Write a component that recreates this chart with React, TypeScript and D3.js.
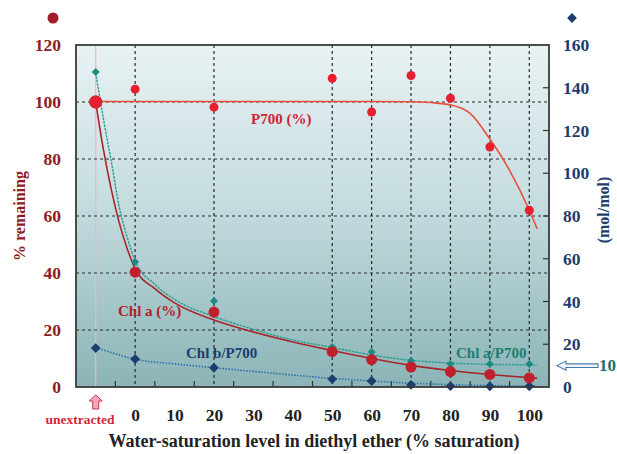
import React, { useRef, useEffect } from 'react';
import * as d3 from 'd3';

// measured samples (x = % water saturation, -10 = unextracted)
const sampleX = [-10, 0, 20, 50, 60, 70, 80, 90, 100];
const p700 = [100, 104.5, 98.2, 108.3, 96.5, 109.3, 101.3, 84.2, 62];
const chlA = [100, 40.3, 26.3, 12.4, 9.6, 7, 5.4, 4.4, 3.2];
const chlAP700 = [147.4, 58.5, 40.2, 18.7, 16.4, 12.2, 10.8, 10.8, 10.8];
const chlBP700 = [18.2, 13.1, 9, 3.7, 2.8, 1, 0.4, 0.3, 0.3];

// fitted curves
const p700FitX = [-10, 60, 70, 75, 80, 85, 90, 95, 100, 102];
const p700FitY = [100.2, 100.2, 100.1, 99.8, 99, 96, 87, 76, 62, 55.5];
const chlAFitX = [-10, -8, -6, -4, -2, 0, 5, 10, 20, 30, 40, 50, 60, 70, 80, 90, 100, 102];
const chlAFitY = [100, 83, 69, 57.5, 48.5, 41.5, 34.5, 29.5, 23.5, 19.3, 15.8, 12.8, 10, 7.6, 5.8, 4.4, 3.3, 3.1];
const chlAP700FitX = [-10, -8, -6, -4, -2, 0, 5, 10, 20, 30, 40, 50, 60, 70, 80, 90, 100, 102];
const chlAP700FitY = [147, 125, 105, 84, 70, 59, 48, 41, 33, 27, 22, 18.5, 15, 12.5, 11.2, 10.6, 10.3, 10.2];
const chlBFitX = [-10, -5, 0, 10, 20, 30, 40, 50, 60, 70, 80, 90, 100, 102];
const chlBFitY = [18.5, 15.5, 13, 10.8, 9, 7.3, 5.6, 4, 2.8, 1.8, 1.1, 0.7, 0.4, 0.4];

const xTickLabels = [0, 10, 20, 30, 40, 50, 60, 70, 80, 90, 100];
const xGrid = [0, 20, 50, 60, 70, 80, 90, 100];
const xMinorTicks = [-5, 5, 15, 25, 35, 45, 55, 65, 75, 85, 95];
const leftTicks = [0, 20, 40, 60, 80, 100, 120];
const leftGrid = [20, 40, 60, 80, 100];
const rightTicks = [0, 20, 40, 60, 80, 100, 120, 140, 160];

const FONT = '"Liberation Serif", "DejaVu Serif", serif';
const DARK_RED = '#8e1c22';
const DARK_BLUE = '#1c3d6e';
const TEAL = '#1b8a80';

const Chart = () => {
    const ref = useRef<SVGSVGElement>(null);

    useEffect(() => {
        const svg = d3.select(ref.current);
        svg.selectAll('*').remove();

        const left = 76, right = 549, top = 45, bottom = 387;
        const x = d3.scaleLinear().domain([-15, 105]).range([left, right]);
        const yL = d3.scaleLinear().domain([0, 120]).range([bottom, top]);
        const yR = d3.scaleLinear().domain([0, 160]).range([bottom, top]);

        // --- background gradient ---
        const defs = svg.append('defs');
        const grad = defs.append('linearGradient').attr('id', 'bg-grad')
            .attr('x1', '0%').attr('y1', '0%').attr('x2', '0%').attr('y2', '100%');
        grad.append('stop').attr('offset', '0%').attr('stop-color', '#e9f2f4');
        grad.append('stop').attr('offset', '45%').attr('stop-color', '#c6dde0');
        grad.append('stop').attr('offset', '100%').attr('stop-color', '#8bb4b6');

        svg.append('rect')
            .attr('x', left).attr('y', top)
            .attr('width', right - left).attr('height', bottom - top)
            .attr('fill', 'url(#bg-grad)');

        // --- unextracted marker line ---
        svg.append('line')
            .attr('x1', x(-10)).attr('x2', x(-10))
            .attr('y1', top).attr('y2', bottom)
            .attr('stroke', '#f0b4c4').attr('stroke-width', 1.2);

        // --- grid ---
        svg.append('g').selectAll('line').data(xGrid).enter().append('line')
            .attr('x1', d => x(d)).attr('x2', d => x(d))
            .attr('y1', top).attr('y2', bottom)
            .attr('stroke', '#2a2a2a').attr('stroke-width', 1.2)
            .attr('stroke-dasharray', '3,3');
        svg.append('g').selectAll('line').data(leftGrid).enter().append('line')
            .attr('x1', left).attr('x2', right)
            .attr('y1', d => yL(d)).attr('y2', d => yL(d))
            .attr('stroke', '#2a2a2a').attr('stroke-width', 1.2)
            .attr('stroke-dasharray', '3,3');

        // --- inward ticks ---
        svg.append('g').selectAll('line').data(xMinorTicks).enter().append('line')
            .attr('x1', d => x(d)).attr('x2', d => x(d))
            .attr('y1', bottom).attr('y2', bottom - 6)
            .attr('stroke', '#333').attr('stroke-width', 1.2);
        svg.append('g').selectAll('line').data(rightTicks.slice(1, -1)).enter().append('line')
            .attr('x1', right).attr('x2', right - 6)
            .attr('y1', d => yR(d)).attr('y2', d => yR(d))
            .attr('stroke', '#333').attr('stroke-width', 1.2);

        // --- fitted curves ---
        const mk = (xs: number[], ys: number[], yS: d3.ScaleLinear<number, number>) =>
            d3.line<number>().x((_, i) => x(xs[i])).y(d => yS(d)).curve(d3.curveMonotoneX)(ys);

        svg.append('path').attr('d', mk(chlBFitX, chlBFitY, yR))
            .attr('fill', 'none').attr('stroke', '#2a6fb0').attr('stroke-width', 1.6)
            .attr('stroke-dasharray', '1.5,1.5');
        svg.append('path').attr('d', mk(chlAP700FitX, chlAP700FitY, yR))
            .attr('fill', 'none').attr('stroke', '#2a9d93').attr('stroke-width', 1.4)
            .attr('stroke-dasharray', '2.5,1');
        svg.append('path').attr('d', mk(chlAFitX, chlAFitY, yL))
            .attr('fill', 'none').attr('stroke', '#a8262a').attr('stroke-width', 1.6);
        svg.append('path').attr('d', mk(p700FitX, p700FitY, yL))
            .attr('fill', 'none').attr('stroke', '#e8503e').attr('stroke-width', 1.6);

        // --- markers (square diamonds) ---
        const square = d3.symbol().type(d3.symbolSquare);
        svg.append('g').selectAll('path').data(chlBP700).enter().append('path')
            .attr('d', square.size(48)())
            .attr('transform', (d, i) => `translate(${x(sampleX[i])},${yR(d)}) rotate(45)`)
            .attr('fill', DARK_BLUE);
        svg.append('g').selectAll('path').data(chlAP700).enter().append('path')
            .attr('d', square.size(32)())
            .attr('transform', (d, i) => `translate(${x(sampleX[i])},${yR(d)}) rotate(45)`)
            .attr('fill', TEAL);
        svg.append('g').selectAll('circle').data(chlA).enter().append('circle')
            .attr('cx', (_, i) => x(sampleX[i])).attr('cy', d => yL(d))
            .attr('r', (_, i) => i === 0 ? 6.5 : 5.5)
            .attr('fill', '#c01f2c');
        svg.append('g').selectAll('circle').data(p700).enter().append('circle')
            .attr('cx', (_, i) => x(sampleX[i])).attr('cy', d => yL(d))
            .attr('r', (_, i) => i === 0 ? 6.5 : 4.5)
            .attr('fill', '#e61e2e');

        // --- frame ---
        svg.append('rect')
            .attr('x', left).attr('y', top)
            .attr('width', right - left).attr('height', bottom - top)
            .attr('fill', 'none').attr('stroke', '#3a3a3a').attr('stroke-width', 1.8);

        // --- axes labels ---
        const styleAxis = (g: any, color: string) => {
            g.select('.domain').remove();
            g.selectAll('text').style('fill', color).style('font-family', FONT)
                .style('font-weight', 'bold').style('font-size', '17.5px');
        };
        svg.append('g').attr('transform', `translate(${left},0)`)
            .call(d3.axisLeft(yL).tickValues(leftTicks).tickSize(0).tickPadding(15))
            .call(g => styleAxis(g, DARK_RED));
        svg.append('g').attr('transform', `translate(${right},0)`)
            .call(d3.axisRight(yR).tickValues(rightTicks).tickSize(0).tickPadding(14))
            .call(g => styleAxis(g, DARK_BLUE));
        svg.append('g').attr('transform', `translate(0,${bottom})`)
            .call(d3.axisBottom(x).tickValues(xTickLabels).tickSize(0).tickPadding(22))
            .call(g => styleAxis(g, '#222'));

        const txt = (tx: number, ty: number, s: string, color: string, size: number, anchor = 'start', rot = 0) =>
            svg.append('text')
                .attr('transform', `translate(${tx},${ty}) rotate(${rot})`)
                .attr('text-anchor', anchor).attr('dominant-baseline', 'central')
                .style('font-family', FONT).style('font-weight', 'bold')
                .style('font-size', `${size}px`).style('fill', color)
                .text(s);

        txt(314, 441, 'Water-saturation level in diethyl ether (% saturation)', '#222', 18, 'middle');
        txt(19, 216, '% remaining', DARK_RED, 16, 'middle', -90);
        txt(603, 210, '(mol/mol)', DARK_BLUE, 16, 'middle', -90);
        txt(80, 419, 'unextracted', '#d0263a', 13.5, 'middle');

        // series labels
        txt(251, 119, 'P700 (%)', '#d4222e', 15);
        txt(118, 311, 'Chl a (%)', '#b3202a', 15);
        txt(186, 353, 'Chl b/P700', DARK_BLUE, 15);
        txt(456, 353, 'Chl a/P700', '#1b7f76', 15);

        // top legend markers
        svg.append('circle').attr('cx', 53).attr('cy', 18).attr('r', 5.5).attr('fill', '#a31d2a');
        svg.append('path').attr('d', d3.symbol().type(d3.symbolSquare).size(48)())
            .attr('transform', 'translate(572,18) rotate(45)').attr('fill', DARK_BLUE);

        // pink up arrow under "unextracted"
        const ax = x(-10);
        svg.append('path')
            .attr('d', `M${ax},395 L${ax + 6.5},401 L${ax + 3},401 L${ax + 3},409 L${ax - 3},409 L${ax - 3},401 L${ax - 6.5},401 Z`)
            .attr('fill', '#f4a9ba').attr('stroke', '#c8344e').attr('stroke-width', 1);

        // hollow arrow pointing to the 10 mol/mol asymptote
        const ay = yR(10);
        svg.append('path')
            .attr('d', `M557,${ay} L566,${ay - 4.5} L566,${ay - 1.8} L598,${ay - 1.8} L598,${ay + 1.8} L566,${ay + 1.8} L566,${ay + 4.5} Z`)
            .attr('fill', '#eef4fa').attr('stroke', '#4a78aa').attr('stroke-width', 1.1);
        txt(599, ay, '10', '#1b6f68', 17);
    }, []);

    return (
        <svg ref={ref} width={617} height={454} style={{ display: 'block', background: '#fff' }}></svg>
    );
};

export default function App() {
    return (
        <div style={{ position: 'absolute', left: 0, top: 0 }}>
            <Chart />
        </div>
    );
}
